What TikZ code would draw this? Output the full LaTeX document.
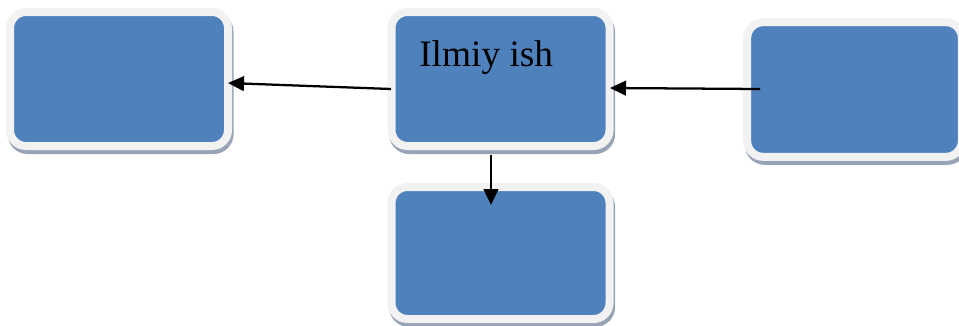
\documentclass[tikz,border=0pt]{standalone}
\usepackage{fontspec}
\setmainfont{Liberation Serif}
\usetikzlibrary{positioning,arrows.meta}
\tikzstyle{sheet} = [x = .75pt, y = -.75pt]
\definecolor{boxColor}{RGB}{79,129,189}
\definecolor{rimColor}{RGB}{242,242,242}
\definecolor{shadowColor}{RGB}{152,164,182}
\tikzstyle{boxStyle} = [draw=rimColor, fill=boxColor, line width=6pt, rounded corners=12pt, inner sep=0pt,
  preaction={draw=shadowColor, fill=shadowColor, line width=6pt, transform canvas={xshift=1.2pt, yshift=-3pt}}]
\tikzstyle{boxText} = [font=\fontsize{28}{30}\selectfont, inner sep=0pt, anchor=base west]
\tikzstyle{linkStyle} = [-{Triangle[length=12pt, width=11pt]}, line width=1.7pt, color=black]

\begin{document}
\begin{tikzpicture}[sheet]
  \useasboundingbox (0,0) rectangle (959,325);
  % boxes
  \node [boxStyle, minimum width=163.5pt, minimum height=100.5pt] (leftBox) at (119,79) {};
  \node [boxStyle, minimum width=163.5pt, minimum height=100.5pt] (ilmiy) at (500.5,79) {};
  \node [boxStyle, minimum width=163.5pt, minimum height=99pt] (bottomBox) at (500.5,253) {};
  \node [boxStyle, minimum width=161pt, minimum height=101pt] (rightBox) at (854.5,89.5) {};
  \node [boxText] (ilmiyText) at (419,66) {Ilmiy ish};
  % links
  \draw [linkStyle] ([shift={(3.5,10)}]ilmiy.west) -- ([shift={(-4,4)}]leftBox.east);
  \draw [linkStyle] ([shift={(17,-0.5)}]rightBox.west) -- ([shift={(-3.5,9)}]ilmiy.east);
  \draw [linkStyle] ([shift={(-9.5,5)}]ilmiy.south) -- ([shift={(-9.5,22)}]bottomBox.north);
\end{tikzpicture}
\end{document}
